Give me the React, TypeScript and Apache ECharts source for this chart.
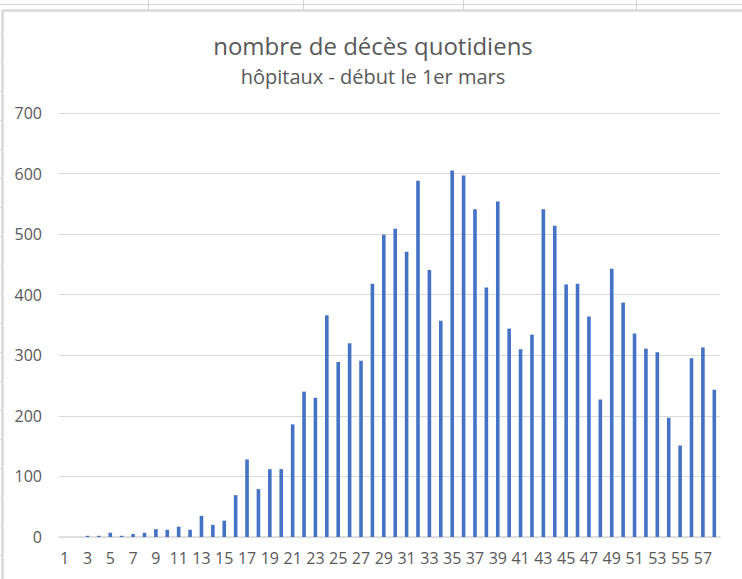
import React, { useEffect, useRef } from "react";
import * as echarts from "echarts";

const days: string[] = [
  "1","2","3","4","5","6","7","8","9","10","11","12","13","14","15","16","17","18","19","20",
  "21","22","23","24","25","26","27","28","29","30","31","32","33","34","35","36","37","38","39","40",
  "41","42","43","44","45","46","47","48","49","50","51","52","53","54","55","56","57","58",
];

const deaths: number[] = [
  0, 0, 2, 2, 7, 2, 5, 7, 13, 12,
  17, 12, 35, 20, 27, 69, 128, 79, 112, 112,
  186, 240, 230, 366, 289, 320, 291, 418, 499, 509,
  471, 588, 441, 357, 605, 597, 541, 412, 554, 344,
  310, 334, 541, 514, 417, 418, 364, 227, 443, 387,
  336, 311, 305, 197, 151, 295, 313, 243,
];

const titleText = "nombre de décès quotidiens";
const subtitleText = "hôpitaux - début le 1er mars";

const rowLines: number[] = [33, 62, 91, 120, 149, 178, 207, 236, 265, 294, 323, 352, 381, 410, 439, 468, 497, 526, 555];
const colLines: number[] = [148, 303, 463, 636];

export default function App() {
  const ref = useRef<HTMLDivElement>(null);
  useEffect(() => {
    if (!ref.current) return;
    const chart = echarts.init(ref.current, undefined, { renderer: "svg" });
    const font = "'Open Sans', 'Noto Sans', sans-serif";
    const textColor = "#595959";
    const graphics: any[] = [
      { type: "line", shape: { x1: 0, y1: 4.5, x2: 742, y2: 4.5 }, style: { stroke: "#D4D4D4", lineWidth: 1 }, silent: true },
      ...colLines.map((x) => ({ type: "line", shape: { x1: x + 0.5, y1: 0, x2: x + 0.5, y2: 10 }, style: { stroke: "#D4D4D4", lineWidth: 1 }, silent: true })),
      ...rowLines.map((y) => ({ type: "line", shape: { x1: 0, y1: y + 0.5, x2: 1, y2: y + 0.5 }, style: { stroke: "#D4D4D4", lineWidth: 1 }, silent: true })),
      { type: "polyline", shape: { points: [[2.5, 579], [2.5, 10.5], [742, 10.5]] }, style: { stroke: "#D9D9D9", lineWidth: 2.5, fill: null }, silent: true },
      { type: "text", x: 373, y: 45, style: { text: titleText, font: `24px ${font}`, fill: textColor, textAlign: "center", textVerticalAlign: "middle" }, silent: true },
      { type: "text", x: 373, y: 76, style: { text: subtitleText, font: `20px ${font}`, fill: textColor, textAlign: "center", textVerticalAlign: "middle" }, silent: true },
    ];
    chart.setOption({
      animation: false,
      backgroundColor: "#ffffff",
      graphic: graphics,
      grid: { left: 59, right: 22, top: 113, bottom: 42, containLabel: false },
      xAxis: {
        type: "category",
        data: days,
        axisLine: { show: true, lineStyle: { color: "#D9D9D9", width: 1.5 } },
        axisTick: { show: false },
        axisLabel: { interval: 1, color: textColor, fontFamily: font, fontSize: 16, margin: 13 },
      },
      yAxis: {
        type: "value",
        min: 0,
        max: 700,
        interval: 100,
        axisLine: { show: false },
        axisTick: { show: false },
        axisLabel: { color: textColor, fontFamily: font, fontSize: 16, margin: 17 },
        splitLine: { lineStyle: { color: "#D9D9D9", width: 1 } },
      },
      series: [
        {
          type: "bar",
          data: deaths,
          barWidth: 3.6,
          itemStyle: { color: "#4472C4" },
        },
      ],
    });
    return () => chart.dispose();
  }, []);
  return <div ref={ref} style={{ width: 742, height: 579, position: "absolute", left: 0, top: 0 }} />;
}
